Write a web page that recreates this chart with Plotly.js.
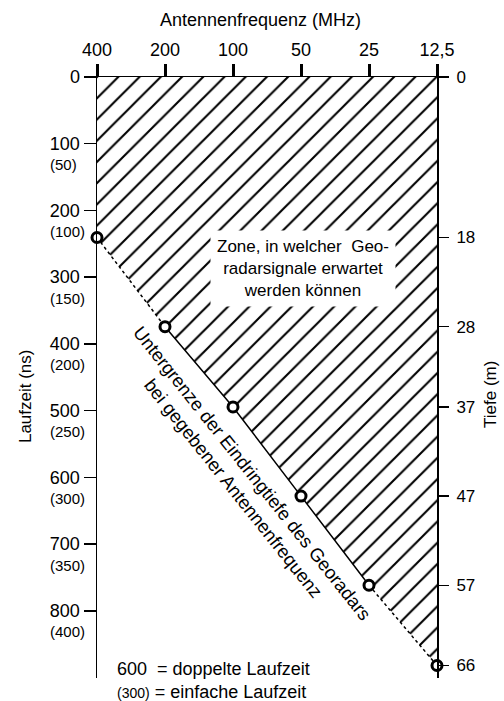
<!DOCTYPE html>
<html>
<head>
<meta charset="utf-8">
<script src="https://cdn.plot.ly/plotly-3.0.1.min.js"></script>
<style>html,body{margin:0;padding:0;background:#fff;}</style>
</head>
<body>
<div id="chart" style="width:504px;height:701px;"></div>
<script>
// Frequencies (MHz) and maximum penetration depth (m)
const freq = [400, 200, 100, 50, 25, 12.5];
const freqLabels = ['400', '200', '100', '50', '25', '12,5'];
const depth = [18, 28, 37, 47, 57, 66];
// Left axis: two-way travel time (ns) and one-way (ns)
const laufzeit = [0, 100, 200, 300, 400, 500, 600, 700, 800];
const einfach = [50, 100, 150, 200, 250, 300, 350, 400];
// Right axis ticks (m)
const tiefeTicks = [0, 18, 28, 37, 47, 57, 66];

const FONT = 'Liberation Sans, Arial, sans-serif';

// Hatched zone polygon: top edge (depth 0) then back along the boundary
const polyX = [freq[0], freq[freq.length - 1]].concat(freq.slice().reverse());
const polyY = [0, 0].concat(depth.slice().reverse());

const traces = [
  {
    x: polyX, y: polyY, yaxis: 'y2', type: 'scatter', mode: 'lines',
    fill: 'toself', fillcolor: 'white',
    fillpattern: {shape: '/', size: 15, solidity: 0.14, fgcolor: 'black', bgcolor: 'white'},
    line: {width: 0, color: 'rgba(0,0,0,0)'}, hoverinfo: 'skip', showlegend: false
  },
  {
    x: freq.slice(0, 2), y: depth.slice(0, 2), yaxis: 'y2', mode: 'lines',
    line: {color: 'black', width: 1.5, dash: '3px,3px'}, showlegend: false
  },
  {
    x: freq.slice(1, 5), y: depth.slice(1, 5), yaxis: 'y2', mode: 'lines',
    line: {color: 'black', width: 1.5}, showlegend: false
  },
  {
    x: freq.slice(4), y: depth.slice(4), yaxis: 'y2', mode: 'lines',
    line: {color: 'black', width: 1.5, dash: '3px,3px'}, showlegend: false
  },
  {
    x: freq, y: depth, yaxis: 'y2', mode: 'markers', cliponaxis: false,
    marker: {symbol: 'circle', size: 10, color: 'white', line: {color: 'black', width: 3}},
    showlegend: false
  }
];

const annotations = [];
einfach.forEach((v, i) => {
  annotations.push({
    xref: 'paper', yref: 'y', x: -0.144, y: laufzeit[i + 1], xanchor: 'left', yanchor: 'middle',
    yshift: -21, text: '(' + v + ')', showarrow: false, font: {size: 15, family: FONT, color: 'black'}
  });
});
annotations.push(
  {xref: 'paper', yref: 'paper', x: 0.482, y: 1.095, text: 'Antennenfrequenz (MHz)', showarrow: false,
   xanchor: 'center', yanchor: 'middle', font: {size: 18, family: FONT, color: 'black'}},
  {xref: 'paper', yref: 'paper', x: -0.212, y: 0.469, text: 'Laufzeit (ns)', showarrow: false, textangle: -90,
   xanchor: 'center', yanchor: 'middle', font: {size: 17, family: FONT, color: 'black'}},
  {xref: 'paper', yref: 'paper', x: 1.159, y: 0.471, text: 'Tiefe (m)', showarrow: false, textangle: -90,
   xanchor: 'center', yanchor: 'middle', font: {size: 17, family: FONT, color: 'black'}},
  {xref: 'paper', yref: 'paper', x: 0.606, y: 0.682,
   text: 'Zone, in welcher  Geo-<br>radarsignale erwartet<br>werden können', showarrow: false,
   xanchor: 'center', yanchor: 'middle', align: 'center', bgcolor: 'white', borderpad: 6,
   font: {size: 17, family: FONT, color: 'black'}},
  {xref: 'paper', yref: 'paper', x: 0.428, y: 0.328,
   text: 'Untergrenze der Eindringtiefe des Georadars<br>bei gegebener Antennenfrequenz', showarrow: false,
   textangle: 51.5, xanchor: 'center', yanchor: 'middle', align: 'center',
   font: {size: 18.5, family: FONT, color: 'black'}},
  {xref: 'paper', yref: 'paper', x: 0.053, y: 0.015, text: '600  = doppelte Laufzeit', showarrow: false,
   xanchor: 'left', yanchor: 'middle', font: {size: 18, family: FONT, color: 'black'}},
  {xref: 'paper', yref: 'paper', x: 0.053, y: -0.023,
   text: '<span style="font-size:14px">(300)</span> = einfache Laufzeit', showarrow: false,
   xanchor: 'left', yanchor: 'middle', font: {size: 18, family: FONT, color: 'black'}}
);

const layout = {
  width: 504, height: 701,
  margin: {l: 97, r: 67, t: 77, b: 23, pad: 0},
  paper_bgcolor: 'white', plot_bgcolor: 'white',
  font: {family: FONT, color: 'black'},
  showlegend: false,
  xaxis: {
    type: 'log', side: 'top', range: [Math.log10(400), Math.log10(12.5)],
    tickvals: freq, ticktext: freqLabels, ticks: 'outside', ticklen: 12, tickwidth: 3, tickcolor: 'black',
    showline: true, linecolor: 'black', linewidth: 1.5, showgrid: false, zeroline: false,
    tickfont: {size: 18, family: FONT, color: 'black'}, fixedrange: true
  },
  yaxis: {
    range: [900.7, 0], tickvals: laufzeit, ticktext: laufzeit.map(String),
    ticks: 'outside', ticklen: 12, tickwidth: 1.5, tickcolor: 'black',
    showline: true, linecolor: 'black', linewidth: 1.5, showgrid: false, zeroline: false,
    tickfont: {size: 18, family: FONT, color: 'black'}, fixedrange: true
  },
  yaxis2: {
    overlaying: 'y', side: 'right', range: [67.4, 0], tickvals: tiefeTicks, ticktext: tiefeTicks.map(String),
    ticks: 'outside', ticklen: 10, tickwidth: 1.5, tickcolor: 'black', ticklabelstandoff: 4,
    showline: true, linecolor: 'black', linewidth: 2, showgrid: false, zeroline: false,
    tickfont: {size: 17, family: FONT, color: 'black'}, fixedrange: true
  },
  annotations: annotations
};

Plotly.newPlot('chart', traces, layout, {staticPlot: true, displayModeBar: false});
</script>
</body>
</html>
